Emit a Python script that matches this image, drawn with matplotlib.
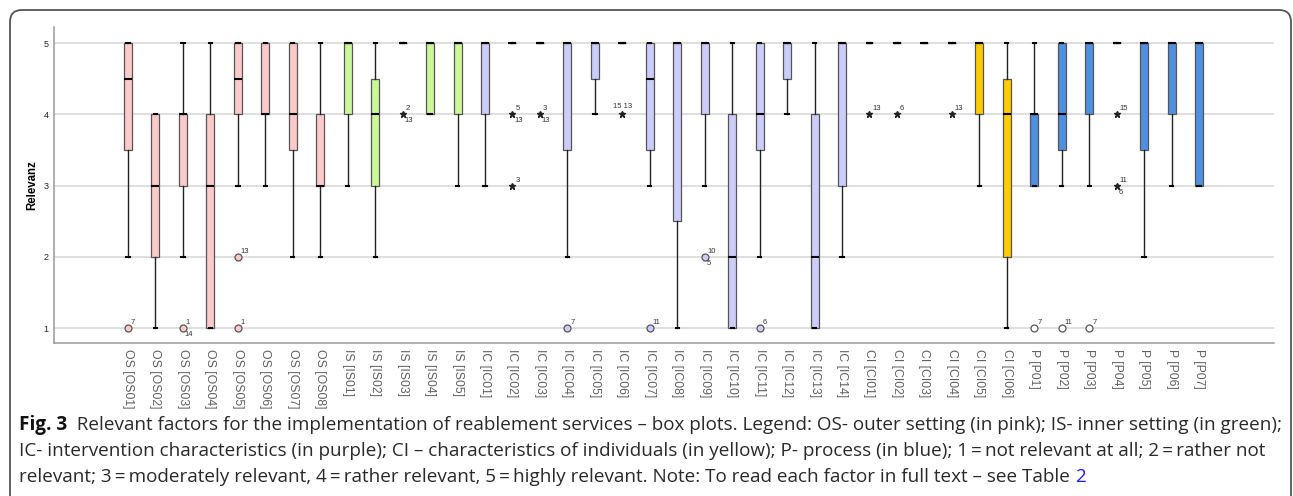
import matplotlib
matplotlib.use("Agg")
import matplotlib.pyplot as plt
from matplotlib.patches import FancyBboxPatch
from matplotlib.transforms import offset_copy

# ---------------- data ----------------
labels = ["OS [OS01]", "OS [OS02]", "OS [OS03]", "OS [OS04]", "OS [OS05]", "OS [OS06]", "OS [OS07]", "OS [OS08]",
          "IS [IS01]", "IS [IS02]", "IS [IS03]", "IS [IS04]", "IS [IS05]",
          "IC [IC01]", "IC [IC02]", "IC [IC03]", "IC [IC04]", "IC [IC05]", "IC [IC06]", "IC [IC07]",
          "IC [IC08]", "IC [IC09]", "IC [IC10]", "IC [IC11]", "IC [IC12]", "IC [IC13]", "IC [IC14]",
          "CI [CI01]", "CI [CI02]", "CI [CI03]", "CI [CI04]", "CI [CI05]", "CI [CI06]",
          "P [P01]", "P [P02]", "P [P03]", "P [P04]", "P [P05]", "P [P06]", "P [P07]"]
groups = ["OS"] * 8 + ["IS"] * 5 + ["IC"] * 14 + ["CI"] * 6 + ["P"] * 7

q1 = [3.5, 2, 3, 1, 4, 4, 3.5, 3,
      4, 3, 5, 4, 4,
      4, 5, 5, 3.5, 4.5, 5, 3.5, 2.5, 4, 1, 3.5, 4.5, 1, 3,
      5, 5, 5, 5, 4, 2,
      3, 3.5, 4, 5, 3.5, 4, 3]
med = [4.5, 3, 4, 3, 4.5, 4, 4, 3,
       5, 4, 5, 5, 5,
       5, 5, 5, 5, 5, 5, 4.5, 5, 5, 2, 4, 5, 2, 5,
       5, 5, 5, 5, 5, 4,
       4, 4, 5, 5, 5, 5, 5]
q3 = [5, 4, 4, 4, 5, 5, 5, 4,
      5, 4.5, 5, 5, 5,
      5, 5, 5, 5, 5, 5, 5, 5, 5, 4, 5, 5, 4, 5,
      5, 5, 5, 5, 5, 4.5,
      4, 5, 5, 5, 5, 5, 5]
whislo = [2, 1, 2, 1, 3, 3, 2, 2,
          3, 2, 5, 4, 3,
          3, 5, 5, 2, 4, 5, 3, 1, 3, 1, 2, 4, 1, 2,
          5, 5, 5, 5, 3, 1,
          3, 3, 3, 5, 2, 3, 3]
whishi = [5, 4, 5, 5, 5, 5, 5, 5,
          5, 5, 5, 5, 5,
          5, 5, 5, 5, 5, 5, 5, 5, 5, 5, 5, 5, 5, 5,
          5, 5, 5, 5, 5, 5,
          5, 5, 5, 5, 5, 5, 5]

# outliers: category, value, kind ('o' outlier, '*' extreme), label above, label below
out_cat = ["OS [OS01]", "OS [OS03]", "OS [OS05]", "OS [OS05]", "IS [IS03]", "IC [IC02]", "IC [IC02]",
           "IC [IC03]", "IC [IC04]", "IC [IC06]", "IC [IC07]", "IC [IC09]", "IC [IC11]",
           "CI [CI01]", "CI [CI02]", "CI [CI04]", "P [P01]", "P [P02]", "P [P03]", "P [P04]", "P [P04]"]
out_val = [1, 1, 2, 1, 4, 4, 3, 4, 1, 4, 1, 2, 1, 4, 4, 4, 1, 1, 1, 4, 3]
out_kind = ["o", "o", "o", "o", "*", "*", "*", "*", "o", "*", "o", "o", "o",
            "*", "*", "*", "o", "o", "o", "*", "*"]
out_up = ["7", "1", "13", "1", "2", "5", "3", "3", "7", "15 13", "11", "10", "6",
          "13", "6", "13", "7", "11", "7", "15", "11"]
out_dn = ["", "14", "", "", "13", "13", "", "13", "", "", "", "5", "",
          "", "", "", "", "", "", "", "6"]

yticks = [1, 2, 3, 4, 5]
ylabel = "Relevanz"

group_colors = {"OS": "#FCCACA", "IS": "#CCF79A", "IC": "#CDCDFB", "CI": "#FFCC00", "P": "#4F90E0"}
outlier_face = {"OS": "#FCCACA", "IS": "#CCF79A", "IC": "#CDCDFB", "CI": "#FFCC00", "P": "#FFFFFF"}

caption_bold = "Fig. 3"
caption_lines = [
    "  Relevant factors for the implementation of reablement services \u2013 box plots. Legend: OS- outer setting (in pink); IS- inner setting (in green);",
    "IC- intervention characteristics (in purple); CI \u2013 characteristics of individuals (in yellow); P- process (in blue); 1\u2009=\u2009not relevant at all; 2\u2009=\u2009rather not",
    "relevant; 3\u2009=\u2009moderately relevant, 4\u2009=\u2009rather relevant, 5\u2009=\u2009highly relevant. Note: To read each factor in full text \u2013 see Table ",
]
caption_link = "2"

# ---------------- figure ----------------
W, H = 1293, 496
fig = plt.figure(figsize=(W / 100, H / 100), dpi=100)
fig.patch.set_facecolor("white")

ax = fig.add_axes([54 / W, 1 - 343 / H, (1274 - 54) / W, (343 - 27) / H])
pos = list(range(len(labels)))

stats = []
for l, a, m, b, lo, hi in zip(labels, q1, med, q3, whislo, whishi):
    stats.append(dict(label=l, q1=a, med=m, q3=b, whislo=lo, whishi=hi, fliers=[]))

bp = ax.bxp(stats, positions=pos, widths=0.29, patch_artist=True, showfliers=False,
            boxprops=dict(edgecolor="#555555", linewidth=0.9),
            medianprops=dict(color="black", linewidth=1.5),
            whiskerprops=dict(color="#222222", linewidth=1.0),
            capprops=dict(color="black", linewidth=1.5),
            capwidths=0.12, zorder=3)
for patch, g in zip(bp["boxes"], groups):
    patch.set_facecolor(group_colors[g])

# outliers
idx = {l: i for i, l in enumerate(labels)}
for c, v, k, up, dn in zip(out_cat, out_val, out_kind, out_up, out_dn):
    i = idx[c]
    g = groups[i]
    if k == "o":
        ax.plot(i, v, marker="o", ms=5, mfc=outlier_face[g], mec="#555555", mew=0.9, zorder=4, ls="none")
    else:
        ax.plot(i, v, marker="*", ms=5, color="#222222", zorder=4, ls="none")
    if up:
        if " " in up:
            t = offset_copy(ax.transData, fig=fig, x=0, y=4, units="dots")
            ax.text(i, v, up, transform=t, fontsize=5.5, color="#333333", ha="center", va="bottom",
                    family="Liberation Sans")
        else:
            t = offset_copy(ax.transData, fig=fig, x=3, y=2, units="dots")
            ax.text(i, v, up, transform=t, fontsize=5.5, color="#333333", ha="left", va="bottom",
                    family="Liberation Sans")
    if dn:
        t = offset_copy(ax.transData, fig=fig, x=2, y=-3, units="dots")
        ax.text(i, v, dn, transform=t, fontsize=5.5, color="#333333", ha="left", va="top",
                family="Liberation Sans")

ax.set_xlim(-2.695, 41.73)
ax.set_ylim(0.79, 5.225)
ax.set_yticks(yticks)
ax.set_yticklabels([str(t) for t in yticks], fontsize=6.5, family="Liberation Sans", color="#222222")
ax.set_xticks(pos)
ax.set_xticklabels(labels, rotation=270, fontsize=8.8, family="Liberation Sans", color="#606060",
                   ha="center", va="top")
ax.tick_params(axis="both", length=0)
ax.tick_params(axis="y", pad=4)
ax.tick_params(axis="x", pad=4)
ax.set_ylabel(ylabel, fontsize=8.3, fontweight="bold", family="Liberation Sans", labelpad=4)
ax.yaxis.grid(True, color="#d6d6d6", linewidth=1.1, zorder=0)
ax.set_axisbelow(True)
for s in ["top", "right"]:
    ax.spines[s].set_visible(False)
for s in ["left", "bottom"]:
    ax.spines[s].set_color("#9a9a9a")
    ax.spines[s].set_linewidth(1.1)

# rounded frame (open at the bottom)
frame = FancyBboxPatch((10, -40), 1281, (H - 10) + 40, boxstyle="round,pad=0,rounding_size=12",
                       transform=None, fill=False, edgecolor="#555555", linewidth=1.3)
fig.add_artist(frame)

# caption
renderer = fig.canvas.get_renderer()
fam = "Open Sans"
target_right = 1275
fs = 12.0
probe = fig.text(0, 0, caption_bold + caption_lines[0], fontsize=fs, family=fam)
w = probe.get_window_extent(renderer).width
probe.remove()
fs = fs * (target_right - 19) / w

base_y = [430, 456, 482]
x0 = 19
tb = fig.text(x0 / W, 1 - base_y[0] / H, caption_bold, fontsize=fs, family=fam, fontweight="bold",
              va="baseline", ha="left", color="#111111")
bw = tb.get_window_extent(renderer).width
fig.text((x0 + bw) / W, 1 - base_y[0] / H, caption_lines[0], fontsize=fs, family=fam,
         va="baseline", ha="left", color="#2a2a2a")
fig.text(x0 / W, 1 - base_y[1] / H, caption_lines[1], fontsize=fs, family=fam,
         va="baseline", ha="left", color="#2a2a2a")
t3 = fig.text(x0 / W, 1 - base_y[2] / H, caption_lines[2], fontsize=fs, family=fam,
              va="baseline", ha="left", color="#2a2a2a")
w3 = t3.get_window_extent(renderer).width
fig.text((x0 + w3) / W, 1 - base_y[2] / H, caption_link, fontsize=fs, family=fam,
         va="baseline", ha="left", color="#1a1aff")

fig.savefig("out.png", dpi=100, facecolor="white")
